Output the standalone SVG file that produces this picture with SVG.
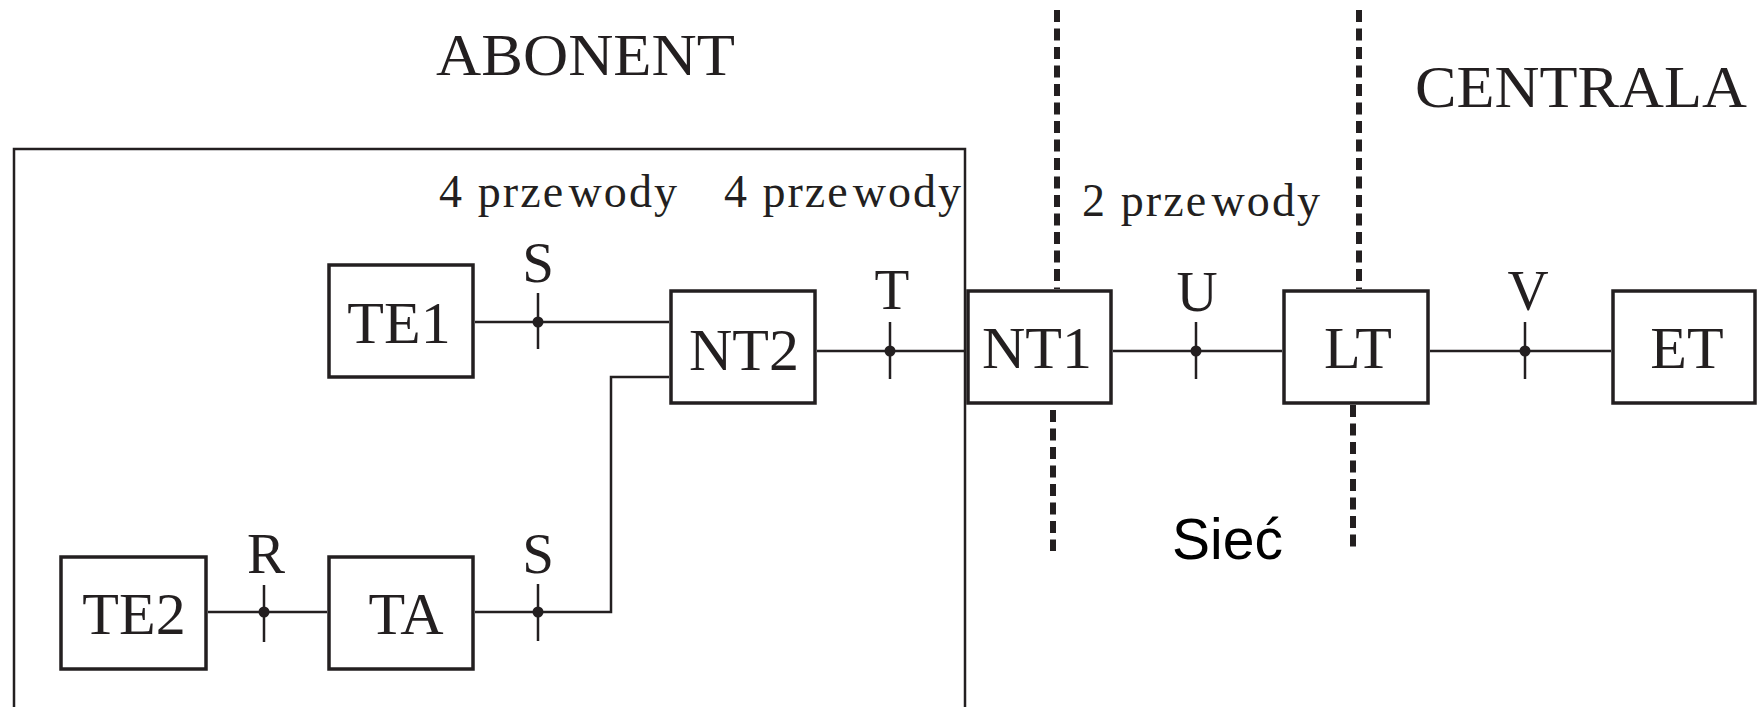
<svg xmlns="http://www.w3.org/2000/svg" width="1760" height="707" viewBox="0 0 1760 707">
<style>
.bg{fill:#ffffff}
.box{fill:none;stroke:#231f20;stroke-width:3.5}
.frame{fill:none;stroke:#231f20;stroke-width:2.5}
.wire{fill:none;stroke:#231f20;stroke-width:2.5}
.dash{fill:none;stroke:#231f20;stroke-width:6;stroke-dasharray:12 6.5}
.dot{fill:#231f20}
.lbl{font-family:"Liberation Serif","Times New Roman",serif;fill:#231f20;text-anchor:middle}
.box-t{font-size:60px}
.pt{font-size:57px}
.wires{font-family:"Liberation Serif","Times New Roman",serif;fill:#231f20;font-size:46px}
.title{font-family:"Liberation Serif","Times New Roman",serif;fill:#231f20;font-size:59px}
.sans{font-family:"Liberation Sans",Arial,sans-serif;fill:#000000;font-size:57px}
</style>
<rect class="bg" x="0" y="0" width="1760" height="707"/>

<g id="regions">
  <rect class="frame" x="14" y="149" width="951" height="570"/>
  <line class="dash" x1="1057" y1="10" x2="1057" y2="289"/>
  <line class="dash" x1="1359" y1="10" x2="1359" y2="289"/>
  <line class="dash" x1="1053" y1="410" x2="1053" y2="551"/>
  <line class="dash" x1="1353" y1="405" x2="1353" y2="551"/>
  <text class="title" x="436" y="75" textLength="299" lengthAdjust="spacingAndGlyphs">ABONENT</text>
  <text class="title" x="1415" y="107" textLength="332" lengthAdjust="spacingAndGlyphs">CENTRALA</text>
  <text class="sans" x="1172" y="559">Sieć</text>
  <text class="wires" x="439" y="207" textLength="238" lengthAdjust="spacing">4 prze<tspan dx="3">wody</tspan></text>
  <text class="wires" x="724" y="207" textLength="237" lengthAdjust="spacing">4 prze<tspan dx="3">wody</tspan></text>
  <text class="wires" x="1082" y="216" textLength="238" lengthAdjust="spacing">2 prze<tspan dx="3">wody</tspan></text>
</g>

<g id="connectors">
  <line class="wire" x1="475" y1="322" x2="669" y2="322"/>
  <line class="wire" x1="538" y1="293" x2="538" y2="349"/>
  <circle class="dot" cx="538" cy="322" r="5.5"/>
  <text class="lbl pt" x="538" y="282">S</text>

  <line class="wire" x1="817" y1="351" x2="966" y2="351"/>
  <line class="wire" x1="890" y1="322" x2="890" y2="379"/>
  <circle class="dot" cx="890" cy="351" r="5.5"/>
  <text class="lbl pt" x="892" y="309">T</text>

  <line class="wire" x1="1113" y1="351" x2="1282" y2="351"/>
  <line class="wire" x1="1196" y1="322" x2="1196" y2="379"/>
  <circle class="dot" cx="1196" cy="351" r="5.5"/>
  <text class="lbl pt" x="1197" y="311">U</text>

  <line class="wire" x1="1430" y1="351" x2="1611" y2="351"/>
  <line class="wire" x1="1525" y1="322" x2="1525" y2="379"/>
  <circle class="dot" cx="1525" cy="351" r="5.5"/>
  <text class="lbl pt" x="1528" y="310">V</text>

  <path class="wire" d="M669 377 H611 V612 H475"/>
  <line class="wire" x1="538" y1="584" x2="538" y2="641"/>
  <circle class="dot" cx="538" cy="612" r="5.5"/>
  <text class="lbl pt" x="538" y="573">S</text>

  <line class="wire" x1="208" y1="612" x2="327" y2="612"/>
  <line class="wire" x1="264" y1="585" x2="264" y2="642"/>
  <circle class="dot" cx="264" cy="612" r="5.5"/>
  <text class="lbl pt" x="266" y="573">R</text>
</g>

<g id="TE1">
  <rect class="box" x="329" y="265" width="144" height="112"/>
  <text class="lbl box-t" x="399" y="343">TE1</text>
</g>
<g id="NT2">
  <rect class="box" x="671" y="291" width="144" height="112"/>
  <text class="lbl box-t" x="744" y="370">NT2</text>
</g>
<g id="NT1">
  <rect class="box" x="968" y="291" width="143" height="112"/>
  <text class="lbl box-t" x="1037" y="368">NT1</text>
</g>
<g id="LT">
  <rect class="box" x="1284" y="291" width="144" height="112"/>
  <text class="lbl box-t" x="1358" y="368">LT</text>
</g>
<g id="ET">
  <rect class="box" x="1613" y="291" width="142" height="112"/>
  <text class="lbl box-t" x="1687" y="368">ET</text>
</g>
<g id="TE2">
  <rect class="box" x="61" y="557" width="145" height="112"/>
  <text class="lbl box-t" x="134" y="634">TE2</text>
</g>
<g id="TA">
  <rect class="box" x="329" y="557" width="144" height="112"/>
  <text class="lbl box-t" x="406" y="634">TA</text>
</g>
</svg>
